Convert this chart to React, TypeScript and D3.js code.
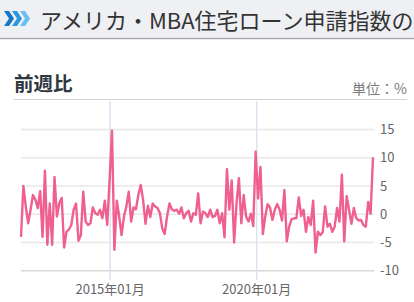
import React from "react";
import * as d3 from "d3";

const values: number[] = [
  -4.0, 5.0, 1.4, -1.6, 0.8, 3.4, 2.6, 1.1, 4.1, -4.0,
  7.7, -5.4, 1.9, -5.4, 6.6, -0.4, 2.0, 2.9, -5.9, -3.1,
  -2.7, -1.9, 0.8, 1.9, -4.7, -3.7, 4.0, -1.3, -1.9, -1.6,
  1.2, 0.2, -0.1, 0.8, -0.7, 2.4, -1.9, 6.1, 14.8, -6.3,
  2.4, -0.4, -3.7, -0.4, 1.4, 4.0, -1.3, 1.2, 0.9, 3.4,
  5.2, 2.5, -1.7, 1.5, -0.5, 1.9, 1.4, 1.1, 0.2, -2.5,
  -3.5, -0.4, 1.9, 0.9, 0.6, 0.8, 0.1, 1.2, -0.7, 0.2,
  0.6, -1.3, 0.2, -0.1, 3.7,
  -1.6, 0.5, 0.2, -0.5, 0.8, -0.5, -0.3, 0.8, -1.6, 0.2,
  -4.1, 8.0, 0.8, 6.0, -5.0, 1.9, 6.4, -1.6, 3.4, -0.4,
  -1.3, 0.1, -2.1, 11.1, 2.8, 8.4, -3.5, -0.4, 1.8, 1.2,
  -1.0, 0.8, 1.8, 0.8, -1.1, 4.3, -4.8, -2.2, -0.9, -0.7,
  -0.7, 3.0, -0.3, 0.8, -3.1, -0.5, -1.9, 2.4, -6.8, -3.1,
  -3.7, -3.2, 1.4, -2.2, -1.7, -3.1, -2.2, 1.1, -1.3, 7.0,
  -4.8, 3.2, 0.8, -1.7, 1.1, -0.7, -1.1, -1.0, -1.9, -2.2,
  2.2, 0.1, 10.1,
];

const startDate = new Date(2011, 11, 18);
const endDate = new Date(2023, 11, 20);
const yTicks = [15, 10, 5, 0, -5, -10];
const xTickDates = [new Date(2015, 0, 1), new Date(2020, 0, 1)];
const xTickLabels = ["2015年01月", "2020年01月"];
const title = "アメリカ・MBA住宅ローン申請指数の推移";
const subtitle = "前週比";
const unitLabel = "単位：%";

const FONT = "'Noto Sans CJK JP', 'Noto Sans', sans-serif";

export default function App() {
  const W = 414, H = 302;
  const x = d3.scaleTime().domain([startDate, endDate]).range([21, 373]);
  const y = d3.scaleLinear().domain([-10, 15]).range([270.7, 129.6]);
  const step = (endDate.getTime() - startDate.getTime()) / (values.length - 1);
  const pts: [Date, number][] = values.map((v, i) => [new Date(startDate.getTime() + step * i), v]);
  const line = d3.line<[Date, number]>().x(d => x(d[0])).y(d => y(d[1]));

  return (
    <svg width={W} height={H} style={{ position: "absolute", left: 0, top: 0, fontFamily: FONT }}>
      <rect x={0} y={0} width={W} height={H} fill="#fff" />
      <rect x={0} y={0} width={W} height={37.5} fill="#eef0f3" />
      <line x1={0} x2={W} y1={38.5} y2={38.5} stroke="#a8a8a8" strokeWidth={1.5} />
      <polygon points="4,11 9,11 14,18.5 9,26 4,26 9,18.5" fill="#1677c9" />
      <polygon points="12,11 17,11 22,18.5 17,26 12,26 17,18.5" fill="#2b97e3" />
      <polygon points="20,11 25,11 30,18.5 25,26 20,26 25,18.5" fill="#69bff3" />
      <text x={40} y={29} fontSize={22} fill="#333">{title}</text>

      <text x={14} y={91} fontSize={19.5} fontWeight="bold" fill="#2e3640">{subtitle}</text>
      <text x={407} y={94} fontSize={14} fill="#7a7a7a" textAnchor="end">{unitLabel}</text>
      <line x1={14} x2={407} y1={99.5} y2={99.5} stroke="#d4d4d4" strokeWidth={1} />

      {yTicks.map(t => (
        <g key={t}>
          <line x1={21} x2={374} y1={y(t)} y2={y(t)} stroke={t === -10 ? "#d8d8d8" : "#e8e8e8"} strokeWidth={1.5} />
          <text x={380} y={y(t)} dy="0.35em" fontSize={13} fill="#666">{t}</text>
        </g>
      ))}
      {xTickDates.map((d, i) => (
        <g key={i}>
          <line x1={x(d)} x2={x(d)} y1={101} y2={280} stroke="#dce3f0" strokeWidth={1.5} />
          <text x={x(d)} y={294} fontSize={13} fill="#666" textAnchor="middle">{xTickLabels[i]}</text>
        </g>
      ))}
      <path d={line(pts) || ""} fill="none" stroke="#ef5f8f" strokeWidth={2.4} strokeLinejoin="round" />
    </svg>
  );
}
